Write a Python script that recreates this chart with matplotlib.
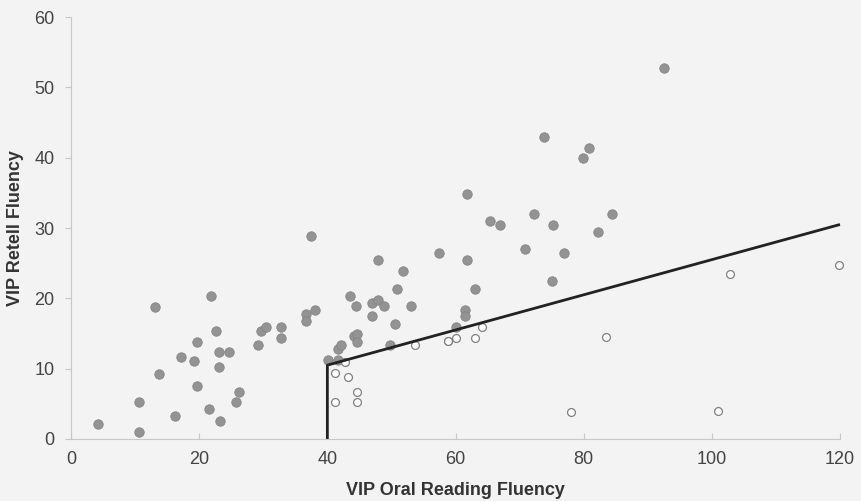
import matplotlib
matplotlib.use("Agg")
import matplotlib.pyplot as plt

plt.rcParams['font.family'] = ['Liberation Sans', 'DejaVu Sans']

# students above the benchmark (filled dots)
fill_x = [4.2, 10.6, 10.6, 13.1, 13.7, 16.2, 17.2, 19.2, 19.6, 19.7, 21.6, 21.9,
          22.6, 23.1, 23.1, 23.2, 24.6, 25.7, 26.2, 29.2, 29.6, 30.5, 32.7, 32.7,
          36.7, 36.7, 37.5, 38.1, 40.1, 41.6, 41.6, 42.1, 43.5, 44.2, 44.5, 44.6,
          44.6, 47.0, 47.0, 47.9, 47.9, 48.9, 49.7, 50.5, 50.9, 51.8, 53.1, 57.5,
          60.1, 61.5, 61.5, 61.8, 61.8, 63.1, 65.4, 66.9, 70.9, 72.2, 73.8, 75.0,
          75.2, 76.9, 79.9, 80.8, 82.3, 84.4, 92.6]
fill_y = [2.1, 0.95, 5.2, 18.7, 9.2, 3.2, 11.7, 11.1, 13.8, 7.6, 4.3, 20.3,
          15.3, 12.3, 10.2, 2.6, 12.3, 5.2, 6.7, 13.3, 15.3, 15.9, 15.9, 14.4,
          17.8, 16.8, 28.9, 18.3, 11.3, 11.3, 12.8, 13.4, 20.4, 14.6, 18.9, 14.9,
          13.8, 19.4, 17.5, 25.4, 19.8, 18.9, 13.3, 16.3, 21.3, 23.9, 18.9, 26.4,
          15.9, 18.4, 17.5, 34.9, 25.4, 21.3, 31.0, 30.4, 27.0, 32.0, 42.9, 22.5,
          30.4, 26.4, 39.9, 41.4, 29.5, 32.0, 52.8]

# students below the benchmark (open dots)
open_x = [41.2, 41.2, 42.7, 43.2, 44.6, 44.6, 53.6, 58.8, 58.9, 60.1, 63.1,
          64.1, 78.1, 83.5, 101.0, 102.8, 119.8]
open_y = [9.4, 5.3, 10.9, 8.8, 6.7, 5.3, 13.4, 14.0, 14.0, 14.4, 14.4,
          15.9, 3.9, 14.5, 4.0, 23.5, 24.7]

# benchmark line
line_x = [40, 40, 120]
line_y = [0, 10.5, 30.5]

bg = '#f3f3f3'
fig = plt.figure(figsize=(8.61, 5.01), dpi=100, facecolor=bg)
ax = fig.add_axes([0.0825, 0.1238, 0.8931, 0.8422], facecolor=bg)

ax.scatter(fill_x, fill_y, s=46, color='#939393', edgecolors='#858585',
           linewidths=0.6, zorder=3, clip_on=False)
ax.scatter(open_x, open_y, s=32, facecolors='white', edgecolors='#808080',
           linewidths=0.9, zorder=3, clip_on=False)
ax.plot(line_x, line_y, color='#222222', linewidth=2, zorder=4,
        solid_capstyle='butt', clip_on=False)

ax.set_xlim(0, 120)
ax.set_ylim(0, 60)
ax.set_xticks(range(0, 121, 20))
ax.set_yticks(range(0, 61, 10))

for s in ['top', 'right']:
    ax.spines[s].set_visible(False)
for s in ['left', 'bottom']:
    ax.spines[s].set_color('#c8c8c8')
    ax.spines[s].set_linewidth(0.8)

ax.tick_params(axis='x', direction='in', length=4, color='#c8c8c8',
               labelsize=13, labelcolor='#444444', pad=9)
ax.tick_params(axis='y', direction='out', length=4, color='#c8c8c8',
               labelsize=13, labelcolor='#444444', pad=8)

ax.set_xlabel('VIP Oral Reading Fluency', fontsize=13, fontweight='bold',
              color='#333333', labelpad=10)
ax.set_ylabel('VIP Retell Fluency', fontsize=13, fontweight='bold',
              color='#333333', labelpad=7)

fig.savefig('out.png', dpi=100, facecolor=bg)
